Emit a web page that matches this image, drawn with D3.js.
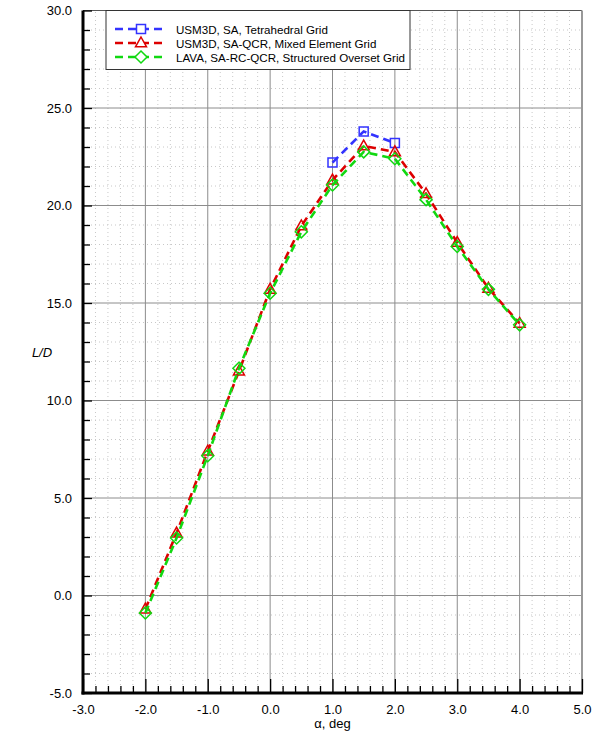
<!DOCTYPE html>
<html>
<head>
<meta charset="utf-8">
<script src="https://cdn.jsdelivr.net/npm/d3@7"></script>
<style>
  body { margin: 0; background: #fff; }
  svg { display: block; font-family: "Liberation Sans", Arial, Helvetica, sans-serif; }
</style>
</head>
<body>
<svg id="chart" width="592" height="736"></svg>
<script>
// angle of attack, deg
const alphaBlue = [1.0, 1.5, 2.0];
const alphaAll = [-2.0, -1.5, -1.0, -0.5, 0.0, 0.5, 1.0, 1.5, 2.0, 2.5, 3.0, 3.5, 4.0];

// L/D values
const ldUsm3dSa = [22.2, 23.8, 23.2];
const ldUsm3dQcr = [-0.7, 3.2, 7.4, 11.5, 15.7, 18.95, 21.3, 23.05, 22.75, 20.6, 18.1, 15.75, 13.95];
const ldLava = [-0.9, 2.95, 7.17, 11.65, 15.5, 18.65, 21.05, 22.75, 22.4, 20.3, 17.9, 15.7, 13.88];

const seriesNames = [
  'USM3D, SA, Tetrahedral Grid',
  'USM3D, SA-QCR, Mixed Element Grid',
  'LAVA, SA-RC-QCR, Structured Overset Grid'
];

const xTicks = [-3, -2, -1, 0, 1, 2, 3, 4, 5];
const yTicks = [-5, 0, 5, 10, 15, 20, 25, 30];

const margin = {top: 10.5, right: 10, bottom: 43, left: 83};
const width = 592, height = 736;

const svg = d3.select('#chart');

const x = d3.scaleLinear()
  .domain([-3, 5])
  .range([margin.left, width - margin.right]);

const y = d3.scaleLinear()
  .domain([-5, 30])
  .range([height - margin.bottom, margin.top]);

const fmt = d => d.toFixed(1);  // plain hyphen minus like the original

const xMinor = d3.range(-3, 5.0001, 0.2).map(v => +v.toFixed(1));
const yMinor = d3.range(-5, 30.0001, 1);

// minor dotted grid
const grid = svg.append('g');
grid.selectAll('.vminor')
  .data(xMinor.filter(v => !xTicks.includes(v)))
  .join('line')
  .attr('x1', d => x(d)).attr('x2', d => x(d))
  .attr('y1', y(-5)).attr('y2', y(30))
  .attr('stroke', '#c8c8c8').attr('stroke-dasharray', '1,3');
grid.selectAll('.hminor')
  .data(yMinor.filter(v => !yTicks.includes(v)))
  .join('line')
  .attr('x1', x(-3)).attr('x2', x(5))
  .attr('y1', d => y(d)).attr('y2', d => y(d))
  .attr('stroke', '#c8c8c8').attr('stroke-dasharray', '1,3');

// major grid
grid.selectAll('.vmajor')
  .data(xTicks.slice(1, -1))
  .join('line')
  .attr('x1', d => x(d)).attr('x2', d => x(d))
  .attr('y1', y(-5)).attr('y2', y(30))
  .attr('stroke', '#8c8c8c');
grid.selectAll('.hmajor')
  .data(yTicks.slice(1, -1))
  .join('line')
  .attr('x1', x(-3)).attr('x2', x(5))
  .attr('y1', d => y(d)).attr('y2', d => y(d))
  .attr('stroke', '#8c8c8c');

// top / right frame
svg.append('line')
  .attr('x1', x(-3)).attr('x2', x(5)).attr('y1', y(30)).attr('y2', y(30))
  .attr('stroke', '#555');
svg.append('line')
  .attr('x1', x(5)).attr('x2', x(5)).attr('y1', y(30)).attr('y2', y(-5))
  .attr('stroke', '#999').attr('stroke-width', 2);

// axes
svg.append('g')
  .attr('transform', `translate(0,${y(-5)})`)
  .call(d3.axisTop(x).tickValues(xMinor).tickSize(7).tickFormat(''))
  .call(g => g.selectAll('.tick line').filter(d => xTicks.includes(d)).attr('y2', -14))
  .call(g => g.selectAll('.tick line').attr('stroke', '#000').attr('stroke-width', 1.3))
  .call(g => g.select('.domain').remove());

svg.append('g')
  .attr('transform', `translate(0,${y(-5) + 9})`)
  .call(d3.axisBottom(x).tickValues(xTicks).tickSize(0).tickFormat(fmt))
  .call(g => g.select('.domain').remove())
  .call(g => g.selectAll('text').attr('font-size', 13).attr('fill', '#000')
    .attr('font-family', '"Liberation Sans", Arial, sans-serif'));

svg.append('g')
  .attr('transform', `translate(${x(-3)},0)`)
  .call(d3.axisRight(y).tickValues(yMinor).tickSize(7).tickFormat(''))
  .call(g => g.selectAll('.tick line').filter(d => yTicks.includes(d)).attr('x2', 9))
  .call(g => g.selectAll('.tick line').attr('stroke', '#000').attr('stroke-width', 1.3))
  .call(g => g.select('.domain').remove());

svg.append('g')
  .attr('transform', `translate(${x(-3) - 8},0)`)
  .call(d3.axisLeft(y).tickValues(yTicks).tickSize(0).tickFormat(fmt))
  .call(g => g.select('.domain').remove())
  .call(g => g.selectAll('text').attr('font-size', 13).attr('fill', '#000')
    .attr('font-family', '"Liberation Sans", Arial, sans-serif'));

// thick left / bottom axis lines
svg.append('line')
  .attr('x1', x(-3)).attr('x2', x(-3)).attr('y1', y(30)).attr('y2', y(-5) + 1.5)
  .attr('stroke', '#000').attr('stroke-width', 3);
svg.append('line')
  .attr('x1', x(-3) - 1.5).attr('x2', x(5) + 1).attr('y1', y(-5)).attr('y2', y(-5))
  .attr('stroke', '#000').attr('stroke-width', 3);

// axis titles
svg.append('text')
  .attr('x', (x(-3) + x(5)) / 2).attr('y', 728)
  .attr('text-anchor', 'middle').attr('font-size', 13)
  .text('\u03b1, deg');
svg.append('text')
  .attr('x', 42).attr('y', 357)
  .attr('text-anchor', 'middle').attr('font-size', 13)
  .attr('font-style', 'italic')
  .text('L/D');

// series
const series = [
  {alpha: alphaBlue, ld: ldUsm3dSa, color: '#3333ff', marker: 'square'},
  {alpha: alphaAll, ld: ldUsm3dQcr, color: '#dd0000', marker: 'triangle'},
  {alpha: alphaAll, ld: ldLava, color: '#11d811', marker: 'diamond'}
];

function markerPath(type) {
  if (type === 'square') return 'M-4.5,-4.5H4.5V4.5H-4.5Z';
  if (type === 'triangle') return 'M0,-6L5.5,3.8H-5.5Z';
  return 'M0,-6L6,0L0,6L-6,0Z';
}

const line = d3.line().x(d => x(d[0])).y(d => y(d[1]));

series.forEach(s => {
  const pts = s.alpha.map((a, i) => [a, s.ld[i]]);
  const g = svg.append('g');
  g.append('path')
    .datum(pts)
    .attr('d', line)
    .attr('fill', 'none')
    .attr('stroke', s.color)
    .attr('stroke-width', 2.6)
    .attr('stroke-dasharray', '8,5');
  g.selectAll('path.mk')
    .data(pts)
    .join('path')
    .attr('class', 'mk')
    .attr('transform', d => `translate(${x(d[0])},${y(d[1])})`)
    .attr('d', markerPath(s.marker))
    .attr('fill', 'none')
    .attr('stroke', s.color)
    .attr('stroke-width', 1.5);
});

// legend
const legend = svg.append('g');
legend.append('rect')
  .attr('x', 106).attr('y', 10.5).attr('width', 304).attr('height', 59)
  .attr('fill', '#fff').attr('stroke', '#333').attr('stroke-width', 1);

series.forEach((s, i) => {
  const ly = 29 + i * 14;
  legend.append('line')
    .attr('x1', 115).attr('x2', 167).attr('y1', ly).attr('y2', ly)
    .attr('stroke', s.color).attr('stroke-width', 2.6)
    .attr('stroke-dasharray', '8,5');
  legend.append('path')
    .attr('transform', `translate(141,${ly})`)
    .attr('d', markerPath(s.marker))
    .attr('fill', '#fff')
    .attr('stroke', s.color)
    .attr('stroke-width', 1.5);
  legend.append('text')
    .attr('x', 176).attr('y', ly + 4.5)
    .attr('font-size', 11.6)
    .text(seriesNames[i]);
});
</script>
</body>
</html>
